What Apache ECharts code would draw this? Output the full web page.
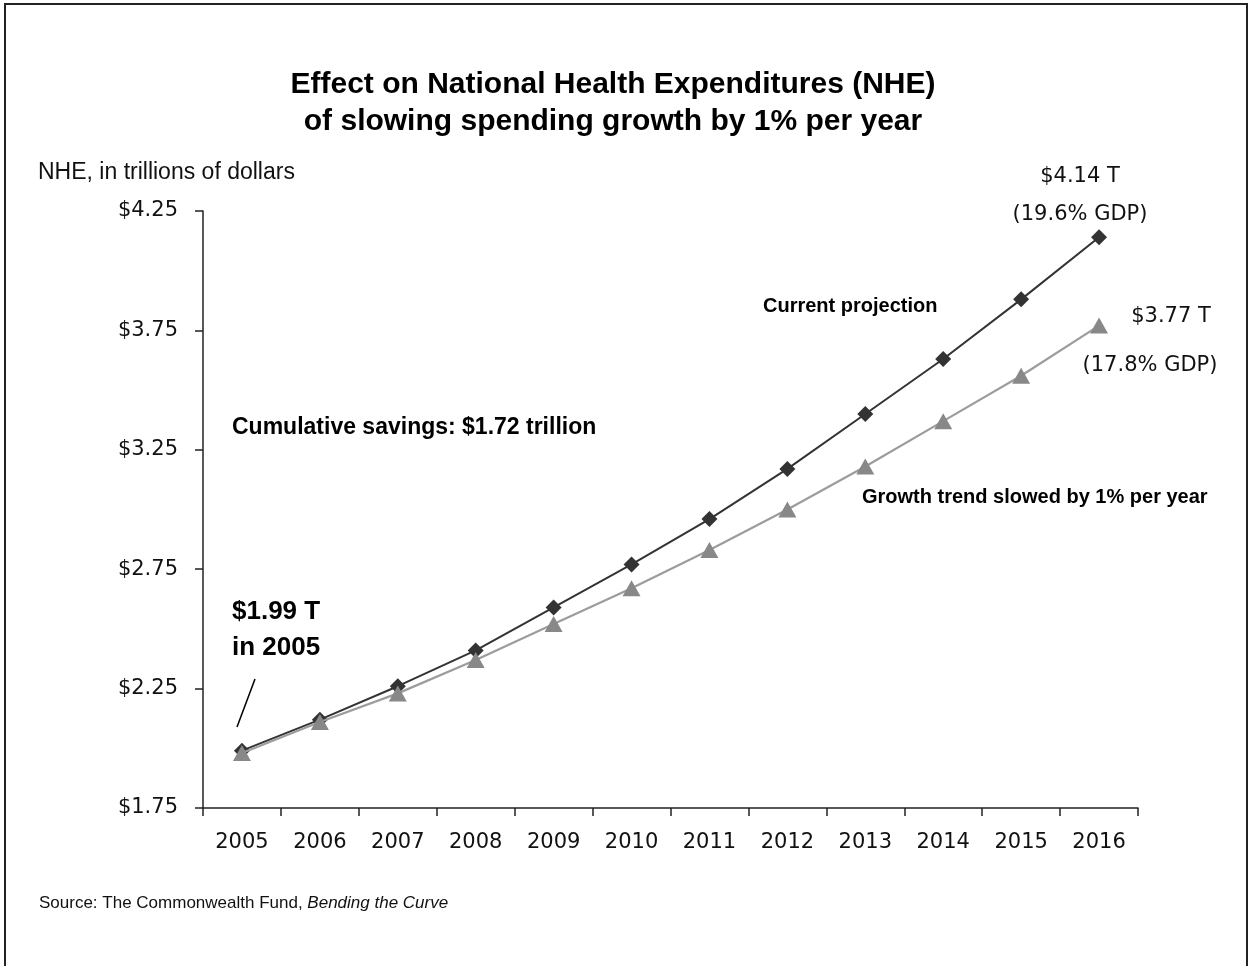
<!DOCTYPE html>
<html>
<head>
<meta charset="utf-8">
<script src="https://cdn.jsdelivr.net/npm/echarts@6/dist/echarts.min.js"></script>
<style>
html,body{margin:0;padding:0;background:#fff;}
#chart{width:1251px;height:966px;}
</style>
</head>
<body>
<div id="chart"></div>
<script>
const years = ['2005','2006','2007','2008','2009','2010','2011','2012','2013','2014','2015','2016'];
const currentProjection = [1.99,2.12,2.26,2.41,2.59,2.77,2.96,3.17,3.40,3.63,3.88,4.14];
const slowedGrowth = [1.98,2.11,2.23,2.37,2.52,2.67,2.83,3.00,3.18,3.37,3.56,3.77];
const yTicks = {min:1.75, max:4.25, interval:0.5};

const chart = echarts.init(document.getElementById('chart'), null, {renderer:'canvas'});
const tickFont = 'DejaVu Sans';
const arial = 'Liberation Sans, Arial, sans-serif';

chart.setOption({
  backgroundColor:'#ffffff',
  animation:false,
  grid:{left:203, right:113, top:211, bottom:158},
  xAxis:{
    type:'category',
    data:years,
    boundaryGap:true,
    axisLine:{lineStyle:{color:'#222', width:1.5}},
    axisTick:{show:true, length:8, inside:false, lineStyle:{color:'#222', width:1.5}},
    axisLabel:{color:'#111', fontFamily:tickFont, fontSize:21, margin:24},
    splitLine:{show:false}
  },
  yAxis:{
    type:'value',
    min:yTicks.min, max:yTicks.max, interval:yTicks.interval,
    axisLine:{show:true, lineStyle:{color:'#222', width:1.5}},
    axisTick:{show:true, length:8, lineStyle:{color:'#222', width:1.5}},
    axisLabel:{color:'#111', fontFamily:tickFont, fontSize:21, margin:25,
      formatter:v=>'$'+v.toFixed(2)},
    splitLine:{show:false}
  },
  series:[
    {
      name:'Current projection',
      type:'line',
      data:currentProjection,
      symbol:'diamond',
      symbolSize:16,
      lineStyle:{color:'#333', width:2},
      itemStyle:{color:'#333'},
      z:3
    },
    {
      name:'Growth trend slowed by 1% per year',
      type:'line',
      data:slowedGrowth,
      symbol:'triangle',
      symbolSize:[18,16],
      lineStyle:{color:'#9c9c9c', width:2.2},
      itemStyle:{color:'#888'},
      z:4
    }
  ],
  graphic:[
    {type:'rect', shape:{x:5, y:4, width:1242, height:1000}, style:{fill:'none', stroke:'#222', lineWidth:2}},
    {type:'text', x:613, y:85, style:{text:'Effect on National Health Expenditures (NHE)', font:'bold 30px '+arial, fill:'#000', textAlign:'center', textVerticalAlign:'middle'}},
    {type:'text', x:613, y:122, style:{text:'of slowing spending growth by 1% per year', font:'bold 30px '+arial, fill:'#000', textAlign:'center', textVerticalAlign:'middle'}},
    {type:'text', x:38, y:173, style:{text:'NHE, in trillions of dollars', font:'23px '+arial, fill:'#111', textVerticalAlign:'middle'}},
    {type:'text', x:232, y:612, style:{text:'$1.99 T', font:'bold 26px '+arial, fill:'#000', textVerticalAlign:'middle'}},
    {type:'text', x:232, y:648, style:{text:'in 2005', font:'bold 26px '+arial, fill:'#000', textVerticalAlign:'middle'}},
    {type:'line', shape:{x1:237, y1:727, x2:255, y2:679}, style:{stroke:'#000', lineWidth:1.5}},
    {type:'text', x:232, y:428, style:{text:'Cumulative savings: $1.72 trillion', font:'bold 23px '+arial, fill:'#000', textVerticalAlign:'middle'}},
    {type:'text', x:763, y:306, style:{text:'Current projection', font:'bold 20px '+arial, fill:'#000', textVerticalAlign:'middle'}},
    {type:'text', x:862, y:497, style:{text:'Growth trend slowed by 1% per year', font:'bold 20px '+arial, fill:'#000', textVerticalAlign:'middle'}},
    {type:'text', x:1080, y:177, style:{text:'$4.14 T', font:'21px '+tickFont, fill:'#111', textAlign:'center', textVerticalAlign:'middle'}},
    {type:'text', x:1080, y:215, style:{text:'(19.6% GDP)', font:'21px '+tickFont, fill:'#111', textAlign:'center', textVerticalAlign:'middle'}},
    {type:'text', x:1171, y:317, style:{text:'$3.77 T', font:'21px '+tickFont, fill:'#111', textAlign:'center', textVerticalAlign:'middle'}},
    {type:'text', x:1150, y:366, style:{text:'(17.8% GDP)', font:'21px '+tickFont, fill:'#111', textAlign:'center', textVerticalAlign:'middle'}},
    {type:'text', x:39, y:903, style:{
      text:'{a|Source: The Commonwealth Fund, }{b|Bending the Curve}',
      textVerticalAlign:'middle',
      rich:{
        a:{font:'17px '+arial, fill:'#111'},
        b:{font:'italic 17px '+arial, fill:'#111'}
      }}}
  ]
});
</script>
</body>
</html>
